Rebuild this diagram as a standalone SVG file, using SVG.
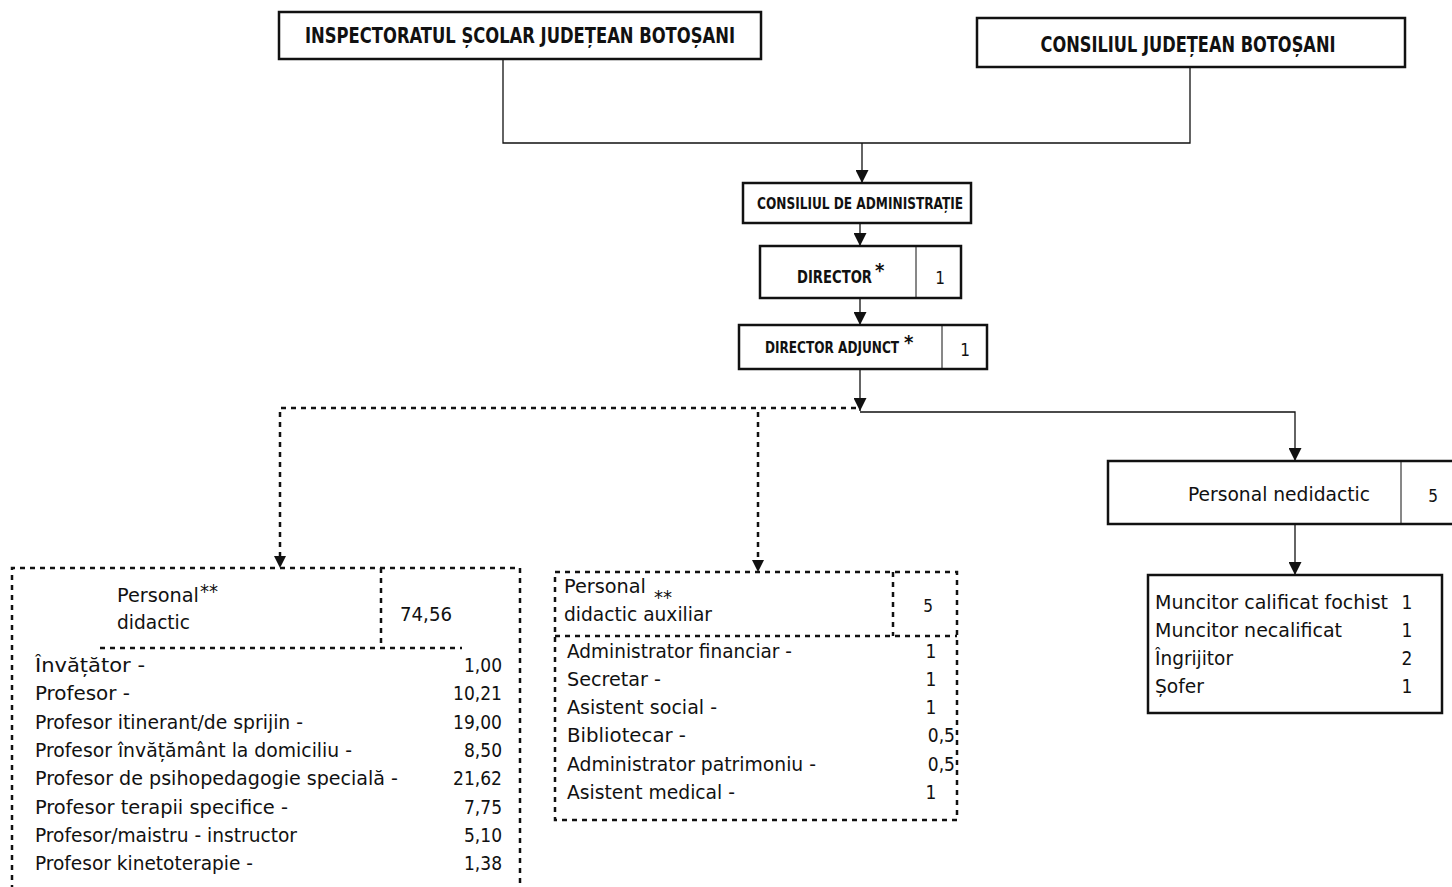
<svg xmlns="http://www.w3.org/2000/svg" width="1452" height="887" viewBox="0 0 1452 887">
<defs>
<style>
text{font-family:"Liberation Sans Narrow","DejaVu Sans Condensed","Liberation Sans",Arial,sans-serif;fill:#111}
.hb{font-weight:bold}
.box{fill:#fff;stroke:#111;stroke-width:2.5}
.div{stroke:#111;stroke-width:1;fill:none}
.dot{fill:none;stroke:#111;stroke-width:2.5;stroke-dasharray:5 5}
.con{fill:none;stroke:#111;stroke-width:1.3}
.lab{font-size:19px}
.num{font-size:19px;text-anchor:end}
.ast{font-size:20px}
</style>
<marker id="ah" viewBox="0 0 14 14" markerWidth="14" markerHeight="13" refX="14" refY="7" orient="auto" markerUnits="userSpaceOnUse">
<path d="M0,0 L14,7 L0,14 z" fill="#111"/>
</marker>
</defs>
<rect width="1452" height="887" fill="#fff"/>

<g id="connectors">
<polyline class="con" points="503,60 503,143 1190,143 1190,67"/>
<line class="con" x1="862" y1="143" x2="862" y2="183" marker-end="url(#ah)"/>
<line class="con" x1="860" y1="223" x2="860" y2="246" marker-end="url(#ah)"/>
<line class="con" x1="860" y1="298" x2="860" y2="325" marker-end="url(#ah)"/>
<line class="con" x1="860" y1="369" x2="860" y2="411" marker-end="url(#ah)"/>
<polyline class="con" points="860,412 1295,412 1295,461" marker-end="url(#ah)"/>
<polyline class="dot" points="856,408 280,408 280,562"/>
<path d="M274,556 L286,556 L280,568 z" fill="#111"/>
<polyline class="dot" points="758,412 758,566"/>
<path d="M752,560 L764,560 L758,572 z" fill="#111"/>
<line class="con" x1="1295" y1="524" x2="1295" y2="575" marker-end="url(#ah)"/>
</g>

<g id="isj">
<rect class="box" x="279" y="12" width="482" height="47"/>
<text class="hb" x="520" y="43" font-size="21" text-anchor="middle" textLength="430" lengthAdjust="spacingAndGlyphs">INSPECTORATUL ȘCOLAR JUDEȚEAN BOTOȘANI</text>
</g>

<g id="cjb">
<rect class="box" x="977" y="18" width="428" height="49"/>
<text class="hb" x="1188" y="52" font-size="21" text-anchor="middle" textLength="295" lengthAdjust="spacingAndGlyphs">CONSILIUL JUDEȚEAN BOTOȘANI</text>
</g>

<g id="ca">
<rect class="box" x="743" y="183" width="228" height="40"/>
<text class="hb" x="860" y="209" font-size="16" text-anchor="middle" textLength="206" lengthAdjust="spacingAndGlyphs">CONSILIUL DE ADMINISTRAȚIE</text>
</g>

<g id="director">
<rect class="box" x="760" y="246" width="201" height="52"/>
<line class="div" x1="916" y1="246" x2="916" y2="298"/>
<text class="hb" x="797" y="283" font-size="18"><tspan textLength="75" lengthAdjust="spacingAndGlyphs">DIRECTOR</tspan><tspan class="ast" dx="3" dy="-6">*</tspan></text>
<text x="940" y="284" font-size="17" text-anchor="middle">1</text>
</g>

<g id="director-adjunct">
<rect class="box" x="739" y="325" width="248" height="44"/>
<line class="div" x1="942" y1="325" x2="942" y2="369"/>
<text class="hb" x="765" y="353" font-size="15"><tspan textLength="134" lengthAdjust="spacingAndGlyphs">DIRECTOR ADJUNCT</tspan><tspan class="ast" dx="5" dy="-4">*</tspan></text>
<text x="965" y="356" font-size="17" text-anchor="middle">1</text>
</g>

<g id="personal-didactic">
<path class="dot" d="M12,900 V568 H520 V900"/>
<line class="dot" x1="381" y1="568" x2="381" y2="648"/>
<line class="dot" x1="100" y1="648" x2="462" y2="648"/>
<text class="lab" x="117" y="602"><tspan textLength="82" lengthAdjust="spacingAndGlyphs">Personal</tspan><tspan class="ast" dx="1" dy="-4">**</tspan></text>
<text class="lab" x="117" y="629" textLength="73" lengthAdjust="spacingAndGlyphs">didactic</text>
<text class="lab" x="400" y="621" textLength="52" lengthAdjust="spacingAndGlyphs">74,56</text>
<text class="lab" x="35" y="672" textLength="110" lengthAdjust="spacingAndGlyphs">Învățător -</text>
<text class="lab" x="35" y="700" textLength="95" lengthAdjust="spacingAndGlyphs">Profesor -</text>
<text class="lab" x="35" y="729" textLength="268" lengthAdjust="spacingAndGlyphs">Profesor itinerant/de sprijin  -</text>
<text class="lab" x="35" y="757" textLength="317" lengthAdjust="spacingAndGlyphs">Profesor învățământ la domiciliu  -</text>
<text class="lab" x="35" y="785" textLength="363" lengthAdjust="spacingAndGlyphs">Profesor de psihopedagogie specială  -</text>
<text class="lab" x="35" y="814" textLength="253" lengthAdjust="spacingAndGlyphs">Profesor terapii specifice  -</text>
<text class="lab" x="35" y="842" textLength="262" lengthAdjust="spacingAndGlyphs">Profesor/maistru - instructor</text>
<text class="lab" x="35" y="870" textLength="218" lengthAdjust="spacingAndGlyphs">Profesor kinetoterapie -</text>
<text class="num" x="502" y="672">1,00</text>
<text class="num" x="502" y="700">10,21</text>
<text class="num" x="502" y="729">19,00</text>
<text class="num" x="502" y="757">8,50</text>
<text class="num" x="502" y="785">21,62</text>
<text class="num" x="502" y="814">7,75</text>
<text class="num" x="502" y="842">5,10</text>
<text class="num" x="502" y="870">1,38</text>
</g>

<g id="personal-didactic-auxiliar">
<rect class="dot" x="555" y="572" width="402" height="248"/>
<line class="dot" x1="893" y1="572" x2="893" y2="636"/>
<line class="dot" x1="555" y1="636" x2="957" y2="636"/>
<text class="lab" x="564" y="593"><tspan textLength="82" lengthAdjust="spacingAndGlyphs">Personal</tspan><tspan class="ast" dx="8" dy="11">**</tspan></text>
<text class="lab" x="564" y="621" textLength="148" lengthAdjust="spacingAndGlyphs">didactic auxiliar</text>
<text x="928" y="612" font-size="17" text-anchor="middle">5</text>
<text class="lab" x="567" y="658" textLength="225" lengthAdjust="spacingAndGlyphs">Administrator financiar -</text>
<text class="lab" x="567" y="686" textLength="94" lengthAdjust="spacingAndGlyphs">Secretar -</text>
<text class="lab" x="567" y="714" textLength="150" lengthAdjust="spacingAndGlyphs">Asistent social -</text>
<text class="lab" x="567" y="742" textLength="119" lengthAdjust="spacingAndGlyphs">Bibliotecar  -</text>
<text class="lab" x="567" y="771" textLength="249" lengthAdjust="spacingAndGlyphs">Administrator patrimoniu  -</text>
<text class="lab" x="567" y="799" textLength="168" lengthAdjust="spacingAndGlyphs">Asistent medical -</text>
<text class="lab" x="931" y="658" text-anchor="middle">1</text>
<text class="lab" x="931" y="686" text-anchor="middle">1</text>
<text class="lab" x="931" y="714" text-anchor="middle">1</text>
<text class="num" x="955" y="742">0,5</text>
<text class="num" x="955" y="771">0,5</text>
<text class="lab" x="931" y="799" text-anchor="middle">1</text>
</g>

<g id="personal-nedidactic">
<rect class="box" x="1108" y="461" width="360" height="63"/>
<line class="div" x1="1401" y1="461" x2="1401" y2="524"/>
<text class="lab" x="1188" y="501" textLength="182" lengthAdjust="spacingAndGlyphs">Personal nedidactic</text>
<text x="1433" y="502" font-size="17" text-anchor="middle">5</text>
</g>

<g id="lista-nedidactic">
<rect class="box" x="1148" y="575" width="294" height="138"/>
<text class="lab" x="1155" y="609" textLength="233" lengthAdjust="spacingAndGlyphs">Muncitor calificat fochist</text>
<text class="lab" x="1155" y="637" textLength="187" lengthAdjust="spacingAndGlyphs">Muncitor necalificat</text>
<text class="lab" x="1155" y="665" textLength="78" lengthAdjust="spacingAndGlyphs">Îngrijitor</text>
<text class="lab" x="1155" y="693" textLength="49" lengthAdjust="spacingAndGlyphs">Șofer</text>
<text class="lab" x="1407" y="609" text-anchor="middle">1</text>
<text class="lab" x="1407" y="637" text-anchor="middle">1</text>
<text class="lab" x="1407" y="665" text-anchor="middle">2</text>
<text class="lab" x="1407" y="693" text-anchor="middle">1</text>
</g>
</svg>
